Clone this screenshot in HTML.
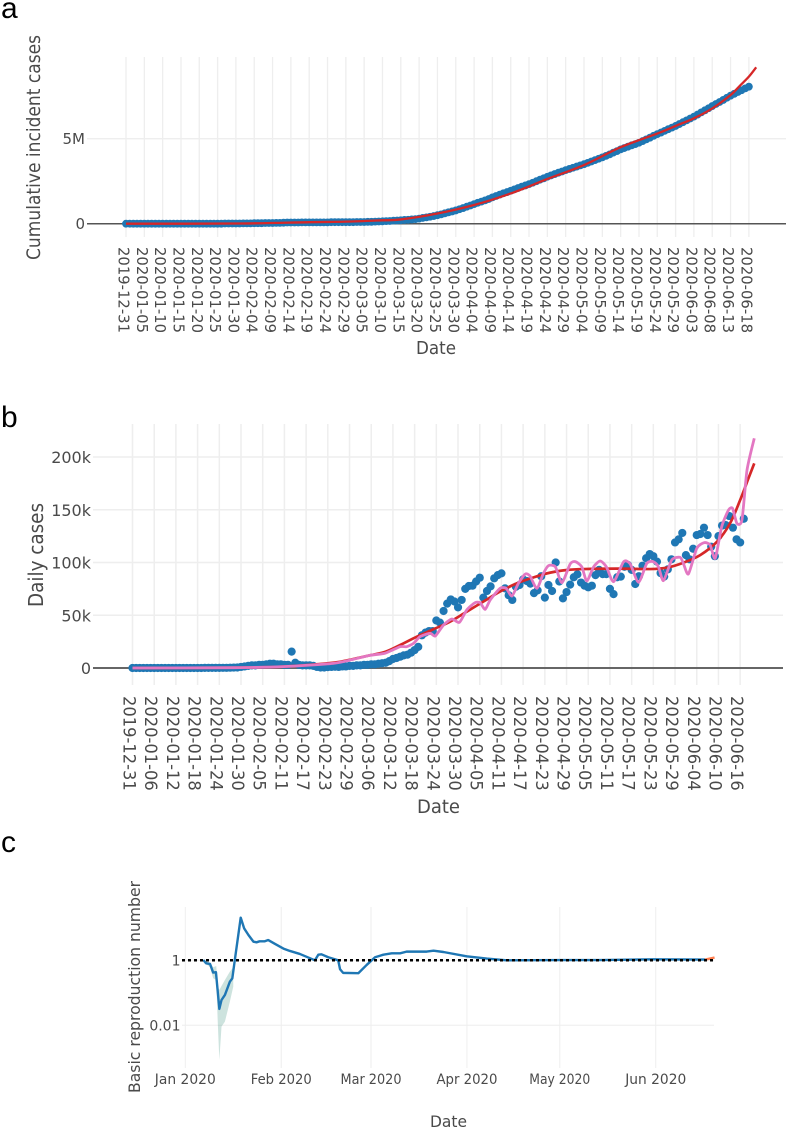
<!DOCTYPE html>
<html lang="en">
<head>
<meta charset="utf-8">
<title>COVID-19 cumulative cases, daily cases and reproduction number</title>
<style>
html,body{margin:0;padding:0;background:#fff;}
svg{display:block;}
text{font-family:"DejaVu Sans","Liberation Sans",sans-serif;fill:#4a4a4a;}
.letter{font-family:"Liberation Sans",sans-serif;fill:#000;font-size:30px;}
</style>
</head>
<body>
<svg id="figure" xmlns="http://www.w3.org/2000/svg" width="787" height="1129" viewBox="0 0 787 1129">
  <text class="letter" x="1" y="18">a</text>
  <text class="letter" x="1" y="427">b</text>
  <text class="letter" x="1" y="852">c</text>
  <g id="panelA"></g>
  <g id="panelB"></g>
  <g id="panelC"></g>
  <text transform="translate(40,260) rotate(-90)" font-size="19" textLength="225" lengthAdjust="spacingAndGlyphs">Cumulative incident cases</text>
  <text x="416" y="354" font-size="18" textLength="40" lengthAdjust="spacingAndGlyphs">Date</text>
  <text transform="translate(43,607) rotate(-90)" font-size="20" textLength="104" lengthAdjust="spacingAndGlyphs">Daily cases</text>
  <text x="417" y="813" font-size="18.5" textLength="43" lengthAdjust="spacingAndGlyphs">Date</text>
  <text transform="translate(140,1093) rotate(-90)" font-size="16" textLength="212" lengthAdjust="spacingAndGlyphs">Basic reproduction number</text>
  <text x="430" y="1127" font-size="16" textLength="37" lengthAdjust="spacingAndGlyphs">Date</text>
</svg>
<script>
// ---------- Panel a data ----------
const aTickDates = ["2019-12-31","2020-01-05","2020-01-10","2020-01-15","2020-01-20","2020-01-25","2020-01-30","2020-02-04","2020-02-09","2020-02-14","2020-02-19","2020-02-24","2020-02-29","2020-03-05","2020-03-10","2020-03-15","2020-03-20","2020-03-25","2020-03-30","2020-04-04","2020-04-09","2020-04-14","2020-04-19","2020-04-24","2020-04-29","2020-05-04","2020-05-09","2020-05-14","2020-05-19","2020-05-24","2020-05-29","2020-06-03","2020-06-08","2020-06-13","2020-06-18"];
const aYTicks = [0, 5];
const aYTickLabels = ["0", "5M"];
const cumulativeMillions = [0,0,0,0,0,0,0,0,0,0,0,0,0,0,0,0,0,0,0,0,
0,0,0,0,0,0,0,.01,.01,.01,
.01,.01,.02,.02,.02,.03,.03,.03,.04,.04,
.04,.05,.05,.06,.07,.07,.07,.07,.08,.08,
.08,.08,.08,.08,.08,.08,.09,.09,.09,.09,
.09,.09,.09,.10,.10,.10,.11,.11,.12,.13,
.14,.15,.16,.18,.19,.20,.22,.23,.25,.27,
.30,.34,.37,.41,.45,.50,.55,.61,.67,.72,
.78,.85,.92,1.0,1.07,1.15,1.23,1.30,1.37,1.45,
1.55,1.63,1.71,1.79,1.86,1.94,2.02,2.10,2.18,2.25,
2.33,2.41,2.50,2.59,2.67,2.76,2.84,2.92,3.0,3.07,
3.15,3.22,3.29,3.36,3.43,3.50,3.58,3.66,3.74,3.82,
3.90,3.99,4.08,4.18,4.27,4.37,4.45,4.53,4.61,4.68,
4.76,4.86,4.96,5.06,5.17,5.27,5.36,5.46,5.56,5.65,
5.75,5.86,5.97,6.08,6.19,6.30,6.42,6.55,6.67,6.79,
6.92,7.04,7.16,7.28,7.41,7.53,7.64,7.75,7.85,7.96,8.06];
const aFitDays = [0,30,50,60,70,75,85,95,105,115,125,135,145,150,155,160,165,167.7,170,172];
const aFitMillions = [0,.01,.09,.12,.2,.25,.6,1.1,1.78,2.63,3.45,4.5,5.3,5.75,6.2,6.78,7.57,8.15,8.65,9.2];

// ---------- Panel b data ----------
const bTickDates = ["2019-12-31","2020-01-06","2020-01-12","2020-01-18","2020-01-24","2020-01-30","2020-02-05","2020-02-11","2020-02-17","2020-02-23","2020-02-29","2020-03-06","2020-03-12","2020-03-18","2020-03-24","2020-03-30","2020-04-05","2020-04-11","2020-04-17","2020-04-23","2020-04-29","2020-05-05","2020-05-11","2020-05-17","2020-05-23","2020-05-29","2020-06-04","2020-06-10","2020-06-16"];
const bYTicks = [0, 50, 100, 150, 200];
const bYTickLabels = ["0", "50k", "100k", "150k", "200k"];
const dailyThousands = [0,0,0,0,0,0,0,0,0,0,0,0,0,0,0,0,0,0,0,0,
.1,.1,.1,.1,.1,.2,.2,.3,.4,.5,
1,1.5,2,2.5,2.5,3,3,3.5,4,4,
3.5,3.5,3,3,15.5,5,3,2.5,2.5,2.5,
2,1,.5,.5,.8,1,1.2,1,1.5,1.5,
2,2,2.5,2.5,3,3,3.5,3.5,4,4.5,
5,6.5,8.5,9.5,10.7,12,12.6,14.5,17,20,
31,33.5,35,35,45,43,54,61,65,63,
57.5,64.5,75,77.7,78,82,85.6,66.7,73,77.4,
85,88,89.7,75.5,69,64.5,77,78.7,84,82.5,
80,71,73.6,87,66.7,78.7,73,100,82,66,
72,79,86,88.8,81,78,76.5,78,88,93,
89,89,75,70,86,86.6,96,97.6,93,79.6,
87,97,104,108,106,100.8,90,86.6,93.5,103,
119,122,128,107,103,113,126,127,133,126,
115,106,125,135,135.5,144,133,122,119,141.5];
const bFitDays = [0,28,41.7,55.5,61,65.6,70,74,78.6,83.2,87.8,92.4,97,101.6,106.3,110.9,115.5,120.1,124.7,133.9,143.1,147.7,152.3,157,161.6,165.2,168,170.3,171.9];
const bFitThousands = [0,.3,1.3,5,8.5,12,15.5,21.8,29.7,36.7,43.9,53.4,62.9,72.4,80.3,85.9,90.4,92.9,93.8,94.2,93.8,95.1,99.8,107.1,119.7,137.1,159.2,179.8,194];
const bSeasonalDays = [0,28,41.7,55.5,61,65.6,69.8,74,75.8,77.7,79.5,82.3,83.7,86,88.3,90.4,92.4,94.7,96.1,97.5,98.9,101.6,103.3,104.9,106.7,108.6,109.9,111.8,113.6,115,116.9,118.7,121,122.4,124.2,125.6,127.5,129.3,131,133,135.8,137.6,139.9,142.2,144,145.4,146.8,149.1,151.4,152.3,153.7,156,158.1,159.7,161.1,162.9,164.8,165.9,167.1,168.5,169.9,171.9];
const bSeasonalThousands = [0,.3,1.3,4.4,8.2,12,14,20.2,20.2,23.4,29.7,32.9,30.3,40.8,46.4,43.3,55,61.9,61.9,55.6,64.5,75.5,75.5,68.2,80.3,89.1,87.2,75.5,89.7,97,96,80.9,98.6,100.8,96,82.5,96,101.4,96,81.8,100.8,98.6,81.2,99.2,100.8,96,82.8,102.4,104.9,99.2,89.1,113.4,118.8,116.6,104,134,149.8,151.3,137.1,140.3,187.7,217.7];

// ---------- Panel c data ----------
const cTickDates = ["2020-01-01","2020-02-01","2020-03-01","2020-04-01","2020-05-01","2020-06-01"];
const cTickLabels = ["Jan 2020","Feb 2020","Mar 2020","Apr 2020","May 2020","Jun 2020"];
const cYTicks = [1, 0.01];
const cYTickLabels = ["1", "0.01"];
const rtDays = [5.8,6.7,8,9,9.9,11,11.7,12.8,14.4,15.2,16,17.9,19,20.4,22,23,24,25.7,26.8,29,31.7,33.8,37,41.9,43,44,46.2,49.4,50,51,55.9,58.6,61.3,64,66.7,69.4,71.5,78,80.2,83.4,90.9,97.4,103.8,121,134,151,168];
const rtValues = [1.02,.81,.77,.42,.43,.032,.06,.086,.22,.28,1.02,20.5,9.66,6.0,3.75,3.58,3.84,3.84,4.2,3.18,2.29,1.94,1.57,1,1.49,1.53,1.24,1,.53,.41,.40,.72,1.24,1.49,1.64,1.64,1.85,1.85,1.98,1.8,1.33,1.13,1,1.02,1.02,1.07,1.05];
const rtForecastDays = [168,171];
const rtForecastValues = [1.05,1.21];
const bandDays = [5.8,8,9,10,10.5,11,11.7,12.8,14.4,15.5];
const bandUpper = [1.02,.85,.61,.67,.155,.122,.162,.248,.448,.61];
const bandLower = [.91,.61,.28,.248,.0115,.00086,.0091,.013,.0535,.155];
const thresholdValue = [1];

// ---------- Axis functions ----------
const NS = "http://www.w3.org/2000/svg";
const dayOf = (s, origin) => (Date.parse(s + "T00:00:00Z") - Date.parse(origin + "T00:00:00Z")) / 864e5;
const xA = d => 126 + d * 3.664;
const yA = m => 223.7 - m * 17;
const xB = d => 132.5 + d * 3.617;
const yB = k => 668 - k * 1.055;
const xC = d => 185.3 + d * 3.095;
const yC = v => 960.3 - Math.log10(v) * 32.5;

function make(parent, tag, attrs, text) {
  const el = document.createElementNS(NS, tag);
  for (const k in attrs) el.setAttribute(k, attrs[k]);
  if (text !== undefined) el.textContent = text;
  parent.appendChild(el);
  return el;
}
function smoothPath(pts, divisor) {
  const t = divisor || 6;
  let d = "M" + pts[0][0].toFixed(2) + " " + pts[0][1].toFixed(2);
  for (let i = 0; i < pts.length - 1; i++) {
    const p0 = pts[Math.max(i - 1, 0)], p1 = pts[i], p2 = pts[i + 1], p3 = pts[Math.min(i + 2, pts.length - 1)];
    const c1x = p1[0] + (p2[0] - p0[0]) / t, c1y = p1[1] + (p2[1] - p0[1]) / t;
    const c2x = p2[0] - (p3[0] - p1[0]) / t, c2y = p2[1] - (p3[1] - p1[1]) / t;
    d += "C" + [c1x, c1y, c2x, c2y, p2[0], p2[1]].map(n => n.toFixed(2)).join(" ");
  }
  return d;
}
function polyPath(pts) {
  return pts.map((p, i) => (i ? "L" : "M") + p[0].toFixed(2) + " " + p[1].toFixed(2)).join("");
}

// ---------- Panel a ----------
const panelA = document.getElementById("panelA");
aTickDates.forEach(t => {
  const x = xA(dayOf(t, "2019-12-31"));
  const g = make(panelA, "line", {x1: x, x2: x, y1: 57, y2: 237, stroke: "#eeeeee", "stroke-width": 1.3});
  
  
  const l = make(panelA, "text", {transform: "translate(" + (x - 7.5) + ",247) rotate(90)", "font-size": 15, textLength: 86, lengthAdjust: "spacingAndGlyphs"}, t);
  
  
});
aYTicks.forEach((v, i) => {
  const y = yA(v);
  const g = make(panelA, "line", {x1: 87, x2: 786, y1: y, y2: y, stroke: v === 0 ? "#555555" : "#eeeeee", "stroke-width": v === 0 ? 1.5 : 1.3});
  
  
  const l = make(panelA, "text", {x: 85, y: y + 5.5, "font-size": 15, "text-anchor": "end"}, aYTickLabels[i]);
  
  
});
cumulativeMillions.forEach((v, d) => {
  const c = make(panelA, "circle", {cx: xA(d), cy: yA(v), r: 3.9, fill: "#1f77b4"});
  
  
});
const aFit = make(panelA, "path", {d: smoothPath(aFitDays.map((d, i) => [xA(d), yA(aFitMillions[i])])), fill: "none", stroke: "#d62728", "stroke-width": 2.3});



// ---------- Panel b ----------
const panelB = document.getElementById("panelB");
bTickDates.forEach(t => {
  const x = xB(dayOf(t, "2019-12-31"));
  const g = make(panelB, "line", {x1: x, x2: x, y1: 424, y2: 685, stroke: "#eeeeee", "stroke-width": 1.5});
  
  
  const l = make(panelB, "text", {transform: "translate(" + (x - 9) + ",696) rotate(90)", "font-size": 17, textLength: 94.7, lengthAdjust: "spacingAndGlyphs"}, t);
  
  
});
bYTicks.forEach((v, i) => {
  const y = yB(v);
  const g = make(panelB, "line", {x1: 93, x2: 783, y1: y, y2: y, stroke: v === 0 ? "#666666" : "#eeeeee", "stroke-width": v === 0 ? 2 : 1.5});
  
  
  const l = make(panelB, "text", {x: 91, y: y + 6, "font-size": 16, "text-anchor": "end"}, bYTickLabels[i]);
  
  
});
dailyThousands.forEach((v, d) => {
  const c = make(panelB, "circle", {cx: xB(d), cy: yB(v), r: 4.1, fill: "#1f77b4"});
  
  
});
const bFit = make(panelB, "path", {d: smoothPath(bFitDays.map((d, i) => [xB(d), yB(bFitThousands[i])])), fill: "none", stroke: "#d62728", "stroke-width": 2.7});


const bSeasonal = make(panelB, "path", {d: smoothPath(bSeasonalDays.map((d, i) => [xB(d), yB(bSeasonalThousands[i])]), 9), fill: "none", stroke: "#e377c2", "stroke-width": 2.8});



// ---------- Panel c ----------
const panelC = document.getElementById("panelC");
cTickDates.forEach((t, i) => {
  const x = xC(dayOf(t, "2020-01-01"));
  const g = make(panelC, "line", {x1: x, x2: x, y1: 907, y2: 1068, stroke: "#eeeeee", "stroke-width": 1});
  
  
  const l = make(panelC, "text", {x: x, y: 1084, "font-size": 14.5, "text-anchor": "middle", textLength: 61, lengthAdjust: "spacingAndGlyphs"}, cTickLabels[i]);
  
  
});
cYTicks.forEach((v, i) => {
  const y = yC(v);
  const g = make(panelC, "line", {x1: 182, x2: 714, y1: y, y2: y, stroke: "#eeeeee", "stroke-width": 1});
  
  
  const l = make(panelC, "text", {x: 180.5, y: y + 5, "font-size": 14, "text-anchor": "end"}, cYTickLabels[i]);
  
  
});
const bandPts = bandDays.map((d, i) => [xC(d), yC(bandUpper[i])]).concat(bandDays.map((d, i) => [xC(d), yC(bandLower[i])]).reverse());
const band = make(panelC, "path", {d: polyPath(bandPts) + "Z", fill: "#1b7f6a", "fill-opacity": 0.22, stroke: "none"});


const rtLine = make(panelC, "path", {d: polyPath(rtDays.map((d, i) => [xC(d), yC(rtValues[i])])), fill: "none", stroke: "#1f77b4", "stroke-width": 2.4, "stroke-linejoin": "round"});


const rtForecast = make(panelC, "path", {d: polyPath(rtForecastDays.map((d, i) => [xC(d), yC(rtForecastValues[i])])), fill: "none", stroke: "#ff7f50", "stroke-width": 2.4});


const threshold = make(panelC, "line", {x1: 182, x2: 714, y1: yC(thresholdValue[0]), y2: yC(thresholdValue[0]), stroke: "#000", "stroke-width": 2.5, "stroke-dasharray": "3 3"});


</script>
</body>
</html>
